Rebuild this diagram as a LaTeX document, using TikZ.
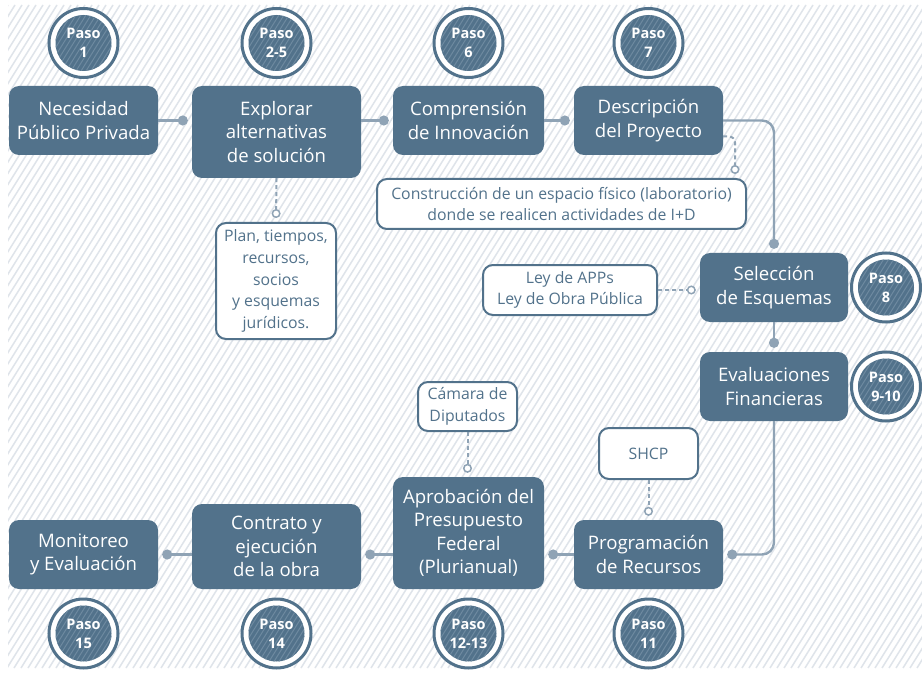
\documentclass[tikz,border=0pt]{standalone}
\usepackage{fontspec}
\setmainfont{Open Sans}
\usetikzlibrary{arrows.meta,calc}

\definecolor{slate}{HTML}{52728B}
\definecolor{wire}{HTML}{8FA3B5}
\definecolor{hatch}{HTML}{DFE4EA}
\definecolor{hatchdark}{HTML}{6E8AA0}

\tikzset{
  stepbox/.style={fill=slate, rounded corners=10pt, text=white, align=center,
    inner sep=0pt, font=\fontsize{18.6}{23.5}\selectfont},
  notebox/.style={draw=slate, line width=2pt, fill=white, rounded corners=10pt,
    text=slate, align=center, inner sep=0pt, font=\fontsize{15.8}{21.7}\selectfont},
  flow/.style={draw=wire, line width=2.4pt, -{Circle[length=10pt,width=10pt]}, shorten >=4pt},
  aside/.style={draw=wire, line width=2pt, dash pattern=on 4pt off 3pt,
    -{Circle[open,length=9pt,width=9pt,fill=white,line width=1.5pt]}, shorten >=4pt},
  pasoring/.style={circle, draw=slate, line width=3pt, fill=white, minimum size=69pt, inner sep=0pt},
  pasocore/.style={circle, fill=slate, minimum size=56pt, inner sep=0pt,
    path picture={\foreach \k in {-9,...,9}
      \draw[hatchdark, line width=1pt] ([xshift=\k*5pt]path picture bounding box.center)
        ++(-20pt,-32pt) -- ++(40pt,64pt);}},
  pasotext/.style={text=white, align=center, inner sep=0pt,
    font=\bfseries\fontsize{14.5}{19}\selectfont},
}

% step badge: name, x, y, label
\newcommand\pasomark[4]{%
  \node[pasoring] (#1) at (#2,#3) {};
  \node[pasocore] (#1c) at (#2,#3) {};
  \node[pasotext] (#1t) at (#2,#3) {#4};
}

\begin{document}
\begin{tikzpicture}[x=1pt,y=-1pt]
\useasboundingbox (0,0) rectangle (922,674);
\fill[white] (0,0) rectangle (922,674);

% striped backdrop
\begin{scope}
  \clip (8,5) rectangle (922,668);
  \foreach \s in {-420,-413,...,925}
    \draw[hatch, line width=1.5pt] (\s,668) -- ++(414,-663);
\end{scope}

% main process steps
\node[stepbox, minimum width=149pt, minimum height=69pt] (nec)  at (83.5,120.5) {Necesidad\\Público Privada};
\node[stepbox, minimum width=169pt, minimum height=92pt] (exp)  at (276.5,132) {Explorar\\alternativas\\de solución};
\node[stepbox, minimum width=151pt, minimum height=69pt] (comp) at (468.5,120.5) {Comprensión\\de Innovación};
\node[stepbox, minimum width=149pt, minimum height=69pt] (desc) at (648.5,120.5) {Descripción\\del Proyecto};
\node[stepbox, minimum width=148pt, minimum height=69pt] (sel)  at (774,287.5) {Selección\\de Esquemas};
\node[stepbox, minimum width=148pt, minimum height=69pt] (eva)  at (774,386.5) {Evaluaciones\\Financieras};
\node[stepbox, minimum width=149pt, minimum height=69pt] (prog) at (648.5,554.5) {Programación\\de Recursos};
\node[stepbox, minimum width=151pt, minimum height=112pt] (apr) at (468.5,533) {Aprobación del\\Presupuesto\\Federal\\(Plurianual)};
\node[stepbox, minimum width=169pt, minimum height=85pt] (con)  at (276.5,546.5) {Contrato y\\ejecución\\de la obra};
\node[stepbox, minimum width=149pt, minimum height=69pt] (mon)  at (83.5,554.5) {Monitoreo\\y Evaluación};

% side notes
\node[notebox, minimum width=369pt, minimum height=50pt] (constr) at (561.5,204) {Construcción de un espacio físico (laboratorio)\\donde se realicen actividades de I+D};
\node[notebox, minimum width=120pt, minimum height=116pt] (plan) at (276,281) {Plan, tiempos,\\recursos,\\socios\\y esquemas\\jurídicos.};
\node[notebox, minimum width=174pt, minimum height=50pt] (ley) at (570,290) {Ley de APPs\\Ley de Obra Pública};
\node[notebox, minimum width=99pt, minimum height=49pt] (cam) at (467.5,406.5) {Cámara de\\Diputados};
\node[notebox, minimum width=99pt, minimum height=51pt] (shcp) at (648.5,453.5) {SHCP};

% step badges
\pasomark{p1}{83.5}{43}{Paso\\1}
\pasomark{p2}{276.5}{43}{Paso\\2-5}
\pasomark{p6}{468.5}{43}{Paso\\6}
\pasomark{p7}{648.5}{43}{Paso\\7}
\pasomark{p8}{886}{287.5}{Paso\\8}
\pasomark{p9}{886}{386.5}{Paso\\9-10}
\pasomark{p11}{648.5}{633.5}{Paso\\11}
\pasomark{p12}{468.5}{633.5}{Paso\\12-13}
\pasomark{p14}{276.5}{633.5}{Paso\\14}
\pasomark{p15}{83.5}{633.5}{Paso\\15}

% process flow
\draw[flow] (nec.east) -- (nec.east -| exp.west);
\draw[flow] (comp.west -| exp.east) -- (comp.west);
\draw[flow] (comp.east) -- (desc.west);
\draw[flow, rounded corners=12pt] (desc.east) -| (sel.north);
\draw[flow] (sel.south) -- (eva.north);
\draw[flow, rounded corners=12pt] (eva.south) |- (prog.east);
\draw[flow] (prog.west) -- (prog.west -| apr.east);
\draw[flow] (apr.west |- prog.west) -- (prog.west -| con.east);
\draw[flow] (con.west |- prog.west) -- (mon.east);

% note links
\draw[aside] (exp.south) -- (plan.north);
\draw[aside, rounded corners=6pt] ([yshift=-16pt]desc.east) -| ([xshift=-12pt]constr.north east);
\draw[aside] (ley.east) -- (ley.east -| sel.west);
\draw[aside] (cam.south) -- (cam.south |- apr.north);
\draw[aside] (shcp.south) -- (prog.north);
\end{tikzpicture}
\end{document}
